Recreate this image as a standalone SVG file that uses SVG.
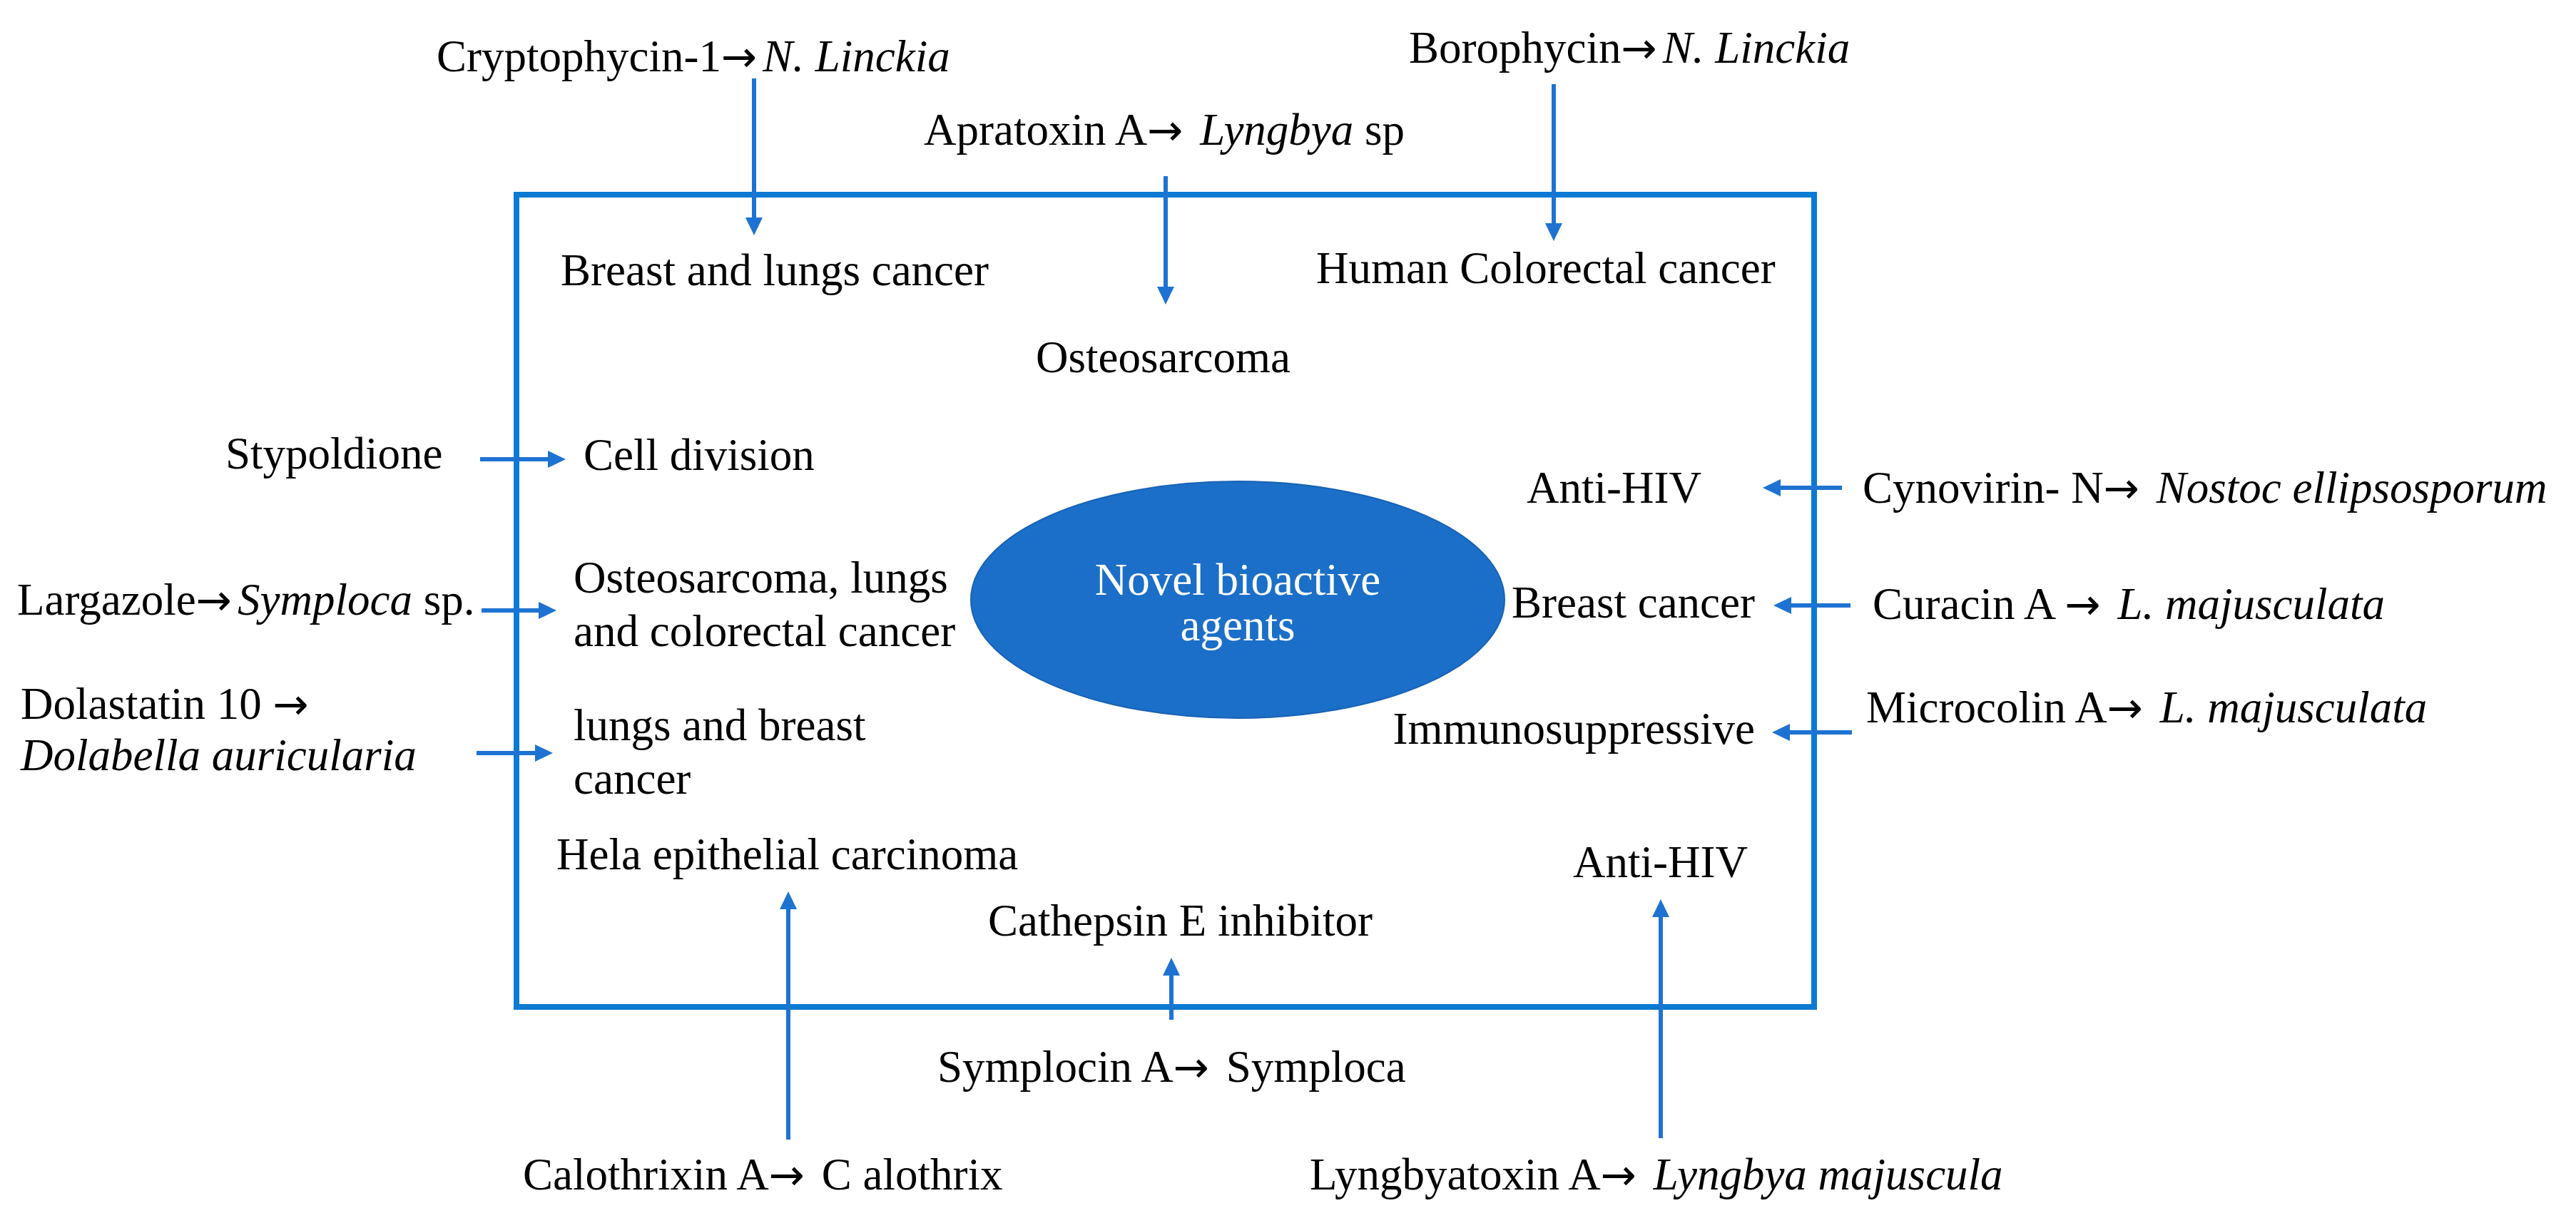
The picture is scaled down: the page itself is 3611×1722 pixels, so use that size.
<svg xmlns="http://www.w3.org/2000/svg" width="3611" height="1722" viewBox="0 0 3611 1722">
<defs>
<style>
.t{font-family:"Liberation Serif","Times New Roman",serif;font-size:63px;fill:#000}
.i{font-style:italic}
.a{font-family:"DejaVu Sans",sans-serif;font-size:60px;letter-spacing:8px}
.w{fill:#fff}
.c{stroke:#1e73d2;stroke-width:6;fill:none}
.box{fill:none;stroke:#0a7ad2;stroke-width:8}
</style>
<marker id="ah" markerUnits="userSpaceOnUse" markerWidth="26" markerHeight="24" refX="0" refY="12" orient="auto" overflow="visible">
<path d="M0,0 L25,12 L0,24 Z" fill="#1e73d2"/>
</marker>
</defs>
<rect width="3611" height="1722" fill="#fff"/>
<g id="frame"><rect class="box" x="724" y="273" width="1819" height="1139"/></g>
<g id="center"><ellipse cx="1735" cy="841" rx="374" ry="166" fill="#1b6fc8" stroke="#1762b4" stroke-width="2"/>
<text class="t w" x="1735" y="834" text-anchor="middle">Novel bioactive</text>
<text class="t w" x="1735" y="898" text-anchor="middle">agents</text></g>
<g id="n-cryptophycin"><text class="t" x="612" y="100">Cryptophycin-1<tspan class="a">→</tspan><tspan class="i">N. Linckia</tspan></text></g>
<g id="n-apratoxin"><text class="t" x="1295" y="203">Apratoxin A<tspan class="a">→</tspan> <tspan class="i">Lyngbya</tspan> sp</text></g>
<g id="n-borophycin"><text class="t" x="1975" y="88">Borophycin<tspan class="a">→</tspan><tspan class="i">N. Linckia</tspan></text></g>
<g id="n-breast-lungs"><text class="t" x="786" y="400">Breast and lungs cancer</text></g>
<g id="n-colorectal"><text class="t" x="1845" y="397">Human Colorectal cancer</text></g>
<g id="n-osteosarcoma"><text class="t" x="1452" y="522">Osteosarcoma</text></g>
<g id="n-stypoldione"><text class="t" x="316" y="657">Stypoldione</text></g>
<g id="n-cell-division"><text class="t" x="818" y="659">Cell division</text></g>
<g id="n-antihiv1"><text class="t" x="2140" y="705">Anti-HIV</text></g>
<g id="n-cynovirin"><text class="t" x="2611" y="705">Cynovirin- N<tspan class="a">→</tspan> <tspan class="i">Nostoc ellipsosporum</tspan></text></g>
<g id="n-largazole"><text class="t" x="24" y="862">Largazole<tspan class="a">→</tspan><tspan class="i">Symploca</tspan> sp.</text></g>
<g id="n-osteo-lungs"><text class="t" x="804" y="831">Osteosarcoma, lungs</text><text class="t" x="804" y="906">and colorectal cancer</text></g>
<g id="n-breast"><text class="t" x="2119" y="866">Breast cancer</text></g>
<g id="n-curacin"><text class="t" x="2625" y="868">Curacin A <tspan class="a">→</tspan> <tspan class="i">L. majusculata</tspan></text></g>
<g id="n-dolastatin"><text class="t" x="29" y="1008">Dolastatin 10 <tspan class="a">→</tspan></text><text class="t i" x="29" y="1080">Dolabella auricularia</text></g>
<g id="n-lungs-breast"><text class="t" x="804" y="1038">lungs and breast</text><text class="t" x="804" y="1113">cancer</text></g>
<g id="n-microcolin"><text class="t" x="2616" y="1013">Microcolin A<tspan class="a">→</tspan> <tspan class="i">L. majusculata</tspan></text></g>
<g id="n-immuno"><text class="t" x="2460" y="1043" text-anchor="end">Immunosuppressive</text></g>
<g id="n-hela"><text class="t" x="780" y="1219">Hela epithelial carcinoma</text></g>
<g id="n-antihiv2"><text class="t" x="2205" y="1230">Anti-HIV</text></g>
<g id="n-cathepsin"><text class="t" x="1385" y="1312">Cathepsin E inhibitor</text></g>
<g id="n-symplocin"><text class="t" x="1314" y="1517">Symplocin A<tspan class="a">→</tspan> Symploca</text></g>
<g id="n-calothrixin"><text class="t" x="733" y="1668">Calothrixin A<tspan class="a">→</tspan> C alothrix</text></g>
<g id="n-lyngbyatoxin"><text class="t" x="1836" y="1668">Lyngbyatoxin A<tspan class="a">→</tspan> <tspan class="i">Lyngbya majuscula</tspan></text></g>
<g id="connectors">
<line class="c" x1="1057" y1="110" x2="1057" y2="305" marker-end="url(#ah)"/>
<line class="c" x1="1634" y1="247" x2="1634" y2="402" marker-end="url(#ah)"/>
<line class="c" x1="2178" y1="118" x2="2178" y2="313" marker-end="url(#ah)"/>
<line class="c" x1="673" y1="644" x2="768" y2="644" marker-end="url(#ah)"/>
<line class="c" x1="675" y1="856" x2="755" y2="856" marker-end="url(#ah)"/>
<line class="c" x1="668" y1="1056" x2="750" y2="1056" marker-end="url(#ah)"/>
<line class="c" x1="2582" y1="684" x2="2496" y2="684" marker-end="url(#ah)"/>
<line class="c" x1="2594" y1="849" x2="2511" y2="849" marker-end="url(#ah)"/>
<line class="c" x1="2596" y1="1027" x2="2509" y2="1027" marker-end="url(#ah)"/>
<line class="c" x1="1105" y1="1598" x2="1105" y2="1275" marker-end="url(#ah)"/>
<line class="c" x1="1642" y1="1430" x2="1642" y2="1368" marker-end="url(#ah)"/>
<line class="c" x1="2328" y1="1596" x2="2328" y2="1286" marker-end="url(#ah)"/>
</g>
</svg>
